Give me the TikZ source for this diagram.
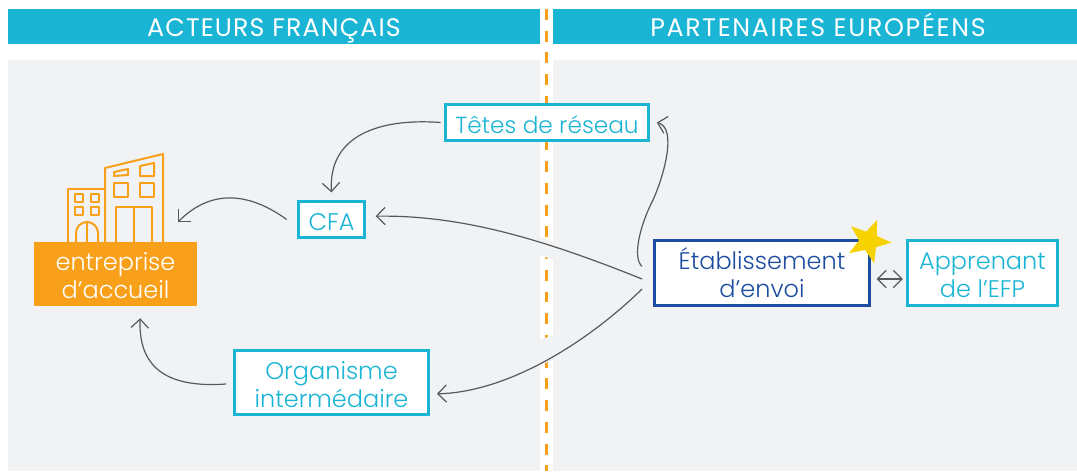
\documentclass[tikz,border=0pt]{standalone}
\usepackage{fontspec}
\setmainfont{Poppins}[UprightFont=* Light,BoldFont=* Medium]
\newfontfamily\bandfont{Poppins}
\usetikzlibrary{arrows.meta,shapes.geometric}
\definecolor{bandcyan}{HTML}{1AB5D5}
\definecolor{panelgrey}{HTML}{F1F2F4}
\definecolor{sideorange}{HTML}{F9A01B}
\definecolor{sendnavy}{HTML}{1C4DA1}
\definecolor{flowgrey}{HTML}{58595B}
\definecolor{stargold}{HTML}{F6D300}
\newcommand\upline[1]{\rule{0pt}{#1}}
\tikzset{
  band/.style={fill=bandcyan, text=white, font=\bandfont\fontsize{19}{20}\selectfont, inner sep=0pt, anchor=center,
    text height=15.5pt, text depth=0pt, minimum height=26.25pt},
  actor/.style={draw=bandcyan, line width=2.2pt, fill=white, text=bandcyan, align=center, inner sep=0pt,
    font=\fontsize{18}{21}\selectfont},
  barb/.tip={Straight Barb[length=6.5pt,width=13pt,line width=.9pt]},
  flow/.style={draw=flowgrey, line width=.9pt, -barb},
  icon/.style={draw=sideorange, line width=1.5pt, line join=round}
}
\begin{document}
\begin{tikzpicture}[x=.75pt, y=-.75pt]
          \useasboundingbox (0,0) rectangle (1077,471);
          % grey panels and the dashed border between them
          \foreach \x/\w in {8/532, 553/524}
            \fill[panelgrey] (\x, 60) rectangle (\x + \w, 471);
          \draw[sideorange, line width=2.4pt, dash pattern=on 8.2pt off 8.1pt] (546.5, 9) -- (546.5, 471);
          \fill[panelgrey] (540, 237) -- (553, 242) -- (553, 259) -- (540, 256) -- cycle;
          \fill[panelgrey] (540, 340) -- (553, 335) -- (553, 360) -- (540, 365) -- cycle;

          % header bands
          \node[band, minimum width=399pt] (francais) at (274, 26.5) {\addfontfeature{LetterSpace=4.3}ACTEURS FRANÇAIS};
          \node[band, minimum width=393pt] (europeens) at (815, 26.5) {\hspace*{4.5pt}\addfontfeature{LetterSpace=6.6}PARTENAIRES EUROPÉENS};

          % the building above the orange box
          \draw[icon] (68, 242) -- (68, 189) -- (105, 189);
          \draw[icon] (105, 242) -- (105, 168) -- (163, 154) -- (163, 242);
          \foreach \x/\y in {75/194, 91/194, 75/207, 91/207}
            \draw[icon] (\x, \y) rectangle (\x + 8, \y + 8);
          \foreach \x in {114, 140}
            \draw[icon] (\x, 183) rectangle (\x + 14, 197);
          \draw[icon] (114, 172) -- (128, 169) -- (128, 175) -- (114, 176) -- cycle;
          \draw[icon] (140, 166) -- (154, 163) -- (154, 176) -- (140, 176) -- cycle;
          \draw[icon] (116, 242) -- (116, 207) -- (152, 207) -- (152, 242);
          \draw[icon] (134, 207) -- (134, 242);
          \draw[icon] (76, 242) -- (76, 233) arc[start angle=180, end angle=360, radius=11] -- (98, 242);
          \draw[icon] (87, 222) -- (87, 242);

          % nodes
          \node[fill=sideorange, text=white, align=center, inner sep=0pt, minimum width=122.25pt, minimum height=48pt,
            font=\fontsize{18}{21}\selectfont] (accueil) at (115.5, 274) {\upline{16pt}entreprise\\d’accueil};
          \node[actor, font=\fontsize{17.4}{20}\selectfont, minimum width=152.5pt, minimum height=27.5pt] (tetes) at (547, 122.5) {\upline{17pt}Têtes de réseau};
          \node[actor, minimum width=50pt, minimum height=26.5pt] (cfa) at (331.5, 219.5) {\upline{16pt}CFA};
          \node[actor, minimum width=146pt, minimum height=47.5pt] (organisme) at (331.5, 382.5) {\upline{16pt}Organisme\\intermédaire};
          \node[actor, draw=sendnavy, text=sendnavy, minimum width=160.75pt, minimum height=48.5pt] (envoi) at (762, 273) {\upline{16pt}Établissement\\d’envoi};
          \node[actor, minimum width=112.25pt, minimum height=48.5pt] (apprenant) at (982.5, 273) {\upline{16pt}Apprenant\\de l’EFP};
          \node[star, star points=5, star point ratio=2.4, fill=stargold, inner sep=0pt, minimum size=34.5pt, rotate=-22] (etoile) at (868.6, 241) {};

          % connectors
          \draw[flow] ([xshift=-2.5pt]tetes.west) .. controls (380, 118) and (328, 135) .. ([yshift=6pt]cfa.north);
          \draw[flow] ([xshift=-7.5pt]cfa.west) .. controls (250, 193) and (212, 188) .. (178, 222);
          \draw[flow] ([xshift=-5pt]organisme.west |- 0, 384) .. controls (170, 388) and (138, 370) .. ([xshift=18.5pt, yshift=-9pt]accueil.south);
          \draw[flow] ([xshift=-8.5pt, yshift=5pt]envoi.west) .. controls (632, 258) and (640, 225) .. (653, 200)
            .. controls (663, 178) and (678, 128) .. ([xshift=5pt]tetes.east);
          \draw[flow] ([xshift=-8.5pt, yshift=-4.5pt]envoi.west) .. controls (540, 238) and (460, 215) .. ([xshift=7pt, yshift=2.5pt]cfa.east);
          \draw[flow] ([xshift=-8.5pt, yshift=-12pt]envoi.west) .. controls (590, 340) and (510, 392) .. ([xshift=5pt, yshift=-8.5pt]organisme.east);
          \draw[flow, barb-barb] ([xshift=4.5pt, yshift=-4.5pt]envoi.east) -- ([xshift=-2.5pt, yshift=-4.5pt]apprenant.west);
        \end{tikzpicture}
\end{document}
